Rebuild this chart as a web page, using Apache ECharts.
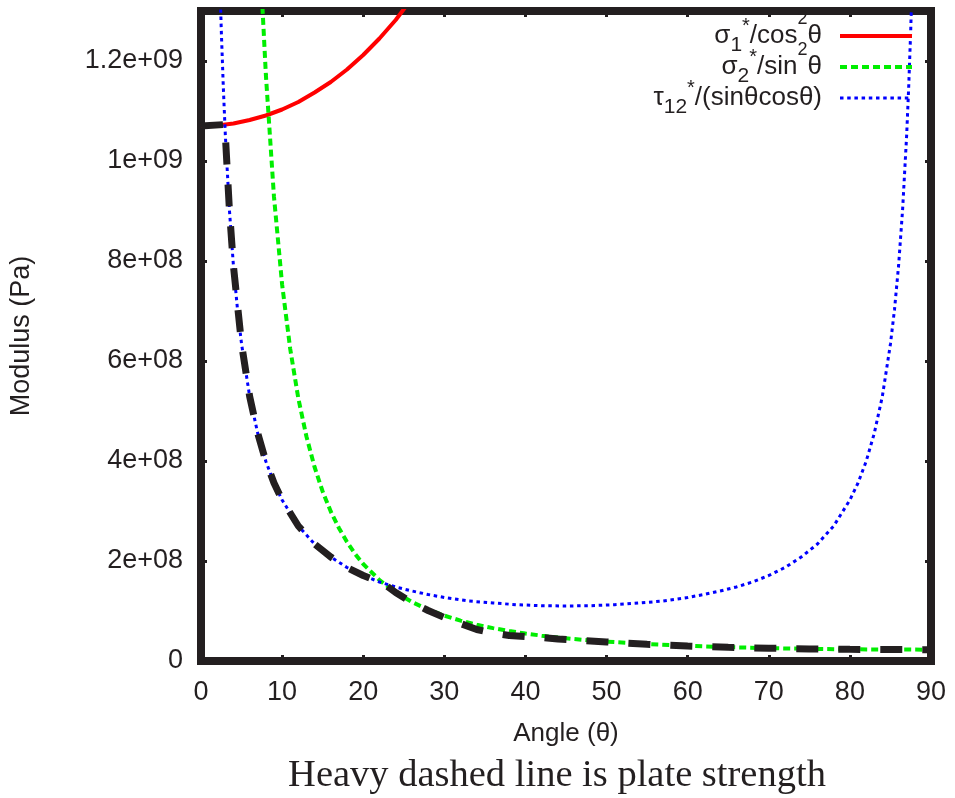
<!DOCTYPE html>
<html>
<head>
<meta charset="utf-8">
<script src="https://cdn.jsdelivr.net/npm/echarts@6/dist/echarts.min.js"></script>
<style>
  html, body { margin: 0; padding: 0; background: #fff; }
  #chart { width: 955px; height: 798px; }
</style>
</head>
<body>
<div id="chart"></div>
<script>
var ink = '#231f20';
var sans = 'Liberation Sans, Arial, sans-serif';
var serif = 'Liberation Serif, Times New Roman, serif';

// sigma1* / cos^2(theta)
var redAngle = [0, 2, 4, 6, 8, 10, 12, 14, 16, 18, 20, 22, 24, 26];
var redValue = [1.07e9, 1.071e9, 1.075e9, 1.082e9, 1.091e9, 1.103e9, 1.118e9, 1.137e9, 1.158e9, 1.183e9, 1.212e9, 1.245e9, 1.282e9, 1.325e9];

// sigma2* / sin^2(theta)
var greenAngle = [7, 7.5, 8, 9, 10, 11, 12, 13, 14, 15, 16, 17, 18, 19, 20, 22, 24, 26, 28, 30, 32, 34, 36, 38, 40, 42, 44, 46, 48, 50, 55, 60, 65, 70, 75, 80, 85, 90];
var greenValue = [1.528e9, 1.332e9, 1.172e9, 9.28e8, 7.53e8, 6.24e8, 5.25e8, 4.49e8, 3.88e8, 3.39e8, 2.99e8, 2.66e8, 2.38e8, 2.14e8, 1.94e8, 1.62e8, 1.37e8, 1.18e8, 1.03e8, 9.08e7, 8.08e7, 7.26e7, 6.57e7, 5.99e7, 5.49e7, 5.07e7, 4.70e7, 4.39e7, 4.11e7, 3.87e7, 3.38e7, 3.03e7, 2.76e7, 2.57e7, 2.43e7, 2.34e7, 2.29e7, 2.27e7];

// tau12* / (sin(theta) cos(theta))
var blueAngle = [2, 2.25, 2.5, 2.75, 3, 3.5, 4, 4.5, 5, 6, 7, 8, 9, 10, 12, 14, 16, 18, 20, 22, 24, 26, 28, 30, 33, 36, 39, 42, 45, 48, 51, 54, 57, 60, 62, 64, 66, 68, 70, 72, 74, 76, 78, 80, 81, 82, 83, 84, 85, 85.5, 86, 86.5, 87, 87.25, 87.5, 87.75, 88];
var blueValue = [1.577e9, 1.402e9, 1.262e9, 1.148e9, 1.052e9, 9.03e8, 7.90e8, 7.03e8, 6.34e8, 5.29e8, 4.55e8, 3.99e8, 3.56e8, 3.22e8, 2.70e8, 2.34e8, 2.08e8, 1.87e8, 1.71e8, 1.58e8, 1.48e8, 1.40e8, 1.33e8, 1.27e8, 1.20e8, 1.16e8, 1.125e8, 1.106e8, 1.10e8, 1.106e8, 1.125e8, 1.16e8, 1.20e8, 1.27e8, 1.33e8, 1.40e8, 1.48e8, 1.58e8, 1.71e8, 1.87e8, 2.08e8, 2.34e8, 2.70e8, 3.22e8, 3.56e8, 3.99e8, 4.55e8, 5.29e8, 6.34e8, 7.03e8, 7.90e8, 9.03e8, 1.052e9, 1.148e9, 1.262e9, 1.402e9, 1.577e9];

// plate strength (heavy dashed)
var plateAngle = [0, 2.95, 3, 3.5, 4, 5, 6, 7, 8, 9, 10, 12, 14, 16, 18, 20, 22, 22.4, 24, 26, 28, 30, 32, 34, 36, 38, 40, 42, 44, 46, 48, 50, 55, 60, 65, 70, 75, 80, 85, 90];
var plateValue = [1.07e9, 1.073e9, 1.052e9, 9.03e8, 7.90e8, 6.34e8, 5.29e8, 4.55e8, 3.99e8, 3.56e8, 3.22e8, 2.70e8, 2.34e8, 2.08e8, 1.87e8, 1.71e8, 1.58e8, 1.56e8, 1.37e8, 1.17e8, 1.01e8, 8.7e7, 7.5e7, 6.3e7, 5.6e7, 5.1e7, 4.9e7, 4.7e7, 4.4e7, 4.2e7, 4.0e7, 3.8e7, 3.35e7, 3.0e7, 2.75e7, 2.55e7, 2.42e7, 2.33e7, 2.28e7, 2.27e7];

var xTicks = [0, 90, 10];        // min, max, step
var yTicks = [0, 1.3e9, 2e8];    // min, max, step

function pairs(a, v) {
    return a.map(function (x, i) { return [x, v[i]]; });
}

function sci(v) {
    if (v === 0) return '0';
    var s = v.toExponential();   // e.g. 1.2e+9
    return s.replace(/e([+-])(\d)$/, 'e$10$2');
}

var myChart = echarts.init(document.getElementById('chart'));

// every side of the frame is an axis: thick line, small inward ticks
function frameAxis(pos, isX) {
    return {
        type: 'value',
        position: pos,
        min: isX ? xTicks[0] : yTicks[0],
        max: isX ? xTicks[1] : yTicks[1],
        interval: isX ? xTicks[2] : yTicks[2],
        axisLine: { show: true, onZero: false, lineStyle: { color: ink, width: 8, cap: 'square' } },
        axisTick: { show: true, inside: true, length: 6, lineStyle: { color: ink, width: 3 } },
        splitLine: { show: false },
        axisLabel: { show: false }
    };
}

var xBottom = frameAxis('bottom', true);
xBottom.axisLabel = { show: true, color: ink, fontFamily: sans, fontSize: 27, margin: 18 };
xBottom.name = 'Angle (\u03b8)';
xBottom.nameLocation = 'middle';
xBottom.nameGap = 60;
xBottom.nameTextStyle = { color: ink, fontFamily: sans, fontSize: 26 };

var yLeft = frameAxis('left', false);
yLeft.axisLabel = { show: true, color: ink, fontFamily: sans, fontSize: 27, margin: 18, showMaxLabel: false, formatter: sci };
yLeft.name = 'Modulus (Pa)';
yLeft.nameLocation = 'middle';
yLeft.nameGap = 166;
yLeft.nameTextStyle = { color: ink, fontFamily: sans, fontSize: 27 };

var xTop = frameAxis('top', true);
var yRight = frameAxis('right', false);

var richStyle = {
    m: { fontFamily: sans, fontSize: 26, color: ink, lineHeight: 54, verticalAlign: 'middle' },
    sup: { fontFamily: sans, fontSize: 18, color: ink, verticalAlign: 'top', padding: [1, 0, 0, 0] },
    star: { fontFamily: sans, fontSize: 20, color: ink, verticalAlign: 'top', padding: [7, 0, 0, 0] },
    sub: { fontFamily: sans, fontSize: 21, color: ink, verticalAlign: 'bottom', padding: [0, 0, 7, 0] }
};

var legendRows = [
    { y: 36, text: '{m|\u03c3}{sub|1}{star|*}{m|/cos}{sup|2}{m|\u03b8}', color: '#ff0000', dash: null, width: 4 },
    { y: 67, text: '{m|\u03c3}{sub|2}{star|*}{m|/sin}{sup|2}{m|\u03b8}', color: '#00ee00', dash: [7, 4], width: 4 },
    { y: 98, text: '{m|\u03c4}{sub|12}{star|*}{m|/(sin\u03b8cos\u03b8)}', color: '#0000ff', dash: [3.5, 3.7], width: 3 }
];

var graphics = [];
legendRows.forEach(function (r) {
    graphics.push({
        type: 'text', x: 822, y: r.y, z: 100,
        style: { text: r.text, align: 'right', verticalAlign: 'middle', rich: richStyle, fontFamily: sans, fontSize: 26, fill: ink }
    });
    graphics.push({
        type: 'line', z: 100,
        shape: { x1: 840, y1: r.y, x2: 912, y2: r.y },
        style: { stroke: r.color, lineWidth: r.width, lineDash: r.dash }
    });
});
graphics.push({
    type: 'text', x: 557, y: 776, z: 100,
    style: { text: 'Heavy dashed line is plate strength', align: 'center', verticalAlign: 'middle', fontFamily: serif, fontSize: 38.5, fill: ink }
});

var option = {
    animation: false,
    backgroundColor: '#ffffff',
    grid: { left: 201, right: 24, top: 11, bottom: 137, containLabel: false },
    xAxis: [xBottom, xTop],
    yAxis: [yLeft, yRight],
    graphic: graphics,
    series: [
        {
            name: 'sigma1', type: 'line', data: pairs(redAngle, redValue), showSymbol: false, clip: true,
            lineStyle: { color: '#ff0000', width: 4 }, z: 2
        },
        {
            name: 'sigma2', type: 'line', data: pairs(greenAngle, greenValue), showSymbol: false, clip: true,
            lineStyle: { color: '#00ee00', width: 4, type: [7, 4] }, z: 3
        },
        {
            name: 'tau12', type: 'line', data: pairs(blueAngle, blueValue), showSymbol: false, clip: true,
            lineStyle: { color: '#0000ff', width: 3, type: [3.5, 3.7] }, z: 4
        },
        {
            name: 'plate', type: 'line', data: pairs(plateAngle, plateValue), showSymbol: false, clip: true,
            lineStyle: { color: ink, width: 7, type: [22, 20] }, z: 5
        }
    ]
};

myChart.setOption(option);
</script>
</body>
</html>
